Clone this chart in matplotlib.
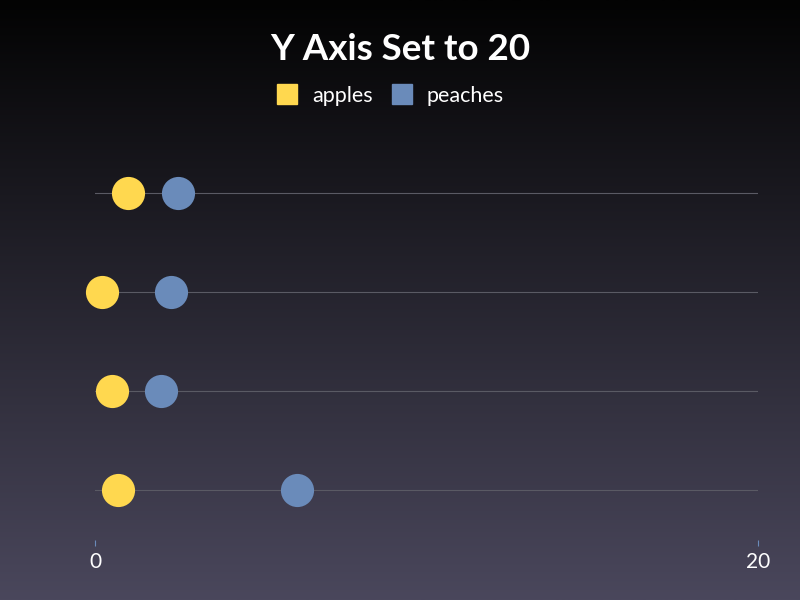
import numpy as np
import matplotlib.pyplot as plt
from matplotlib.lines import Line2D
from matplotlib.colors import LinearSegmentedColormap

plt.rcParams['font.family'] = ['Lato', 'DejaVu Sans']

# data: rows listed from bottom to top
rows = [0, 1, 2, 3]
apples = [0.7, 0.5, 0.2, 1.0]
peaches = [6.1, 2.0, 2.3, 2.5]
series_names = ['apples', 'peaches']
x_ticks = [0, 20]

APPLE_COL = '#ffd84f'
PEACH_COL = '#6a8bba'

fig = plt.figure(figsize=(8, 6), dpi=100)

# background gradient
bg = fig.add_axes([0, 0, 1, 1], zorder=-10)
cmap = LinearSegmentedColormap.from_list('bg', ['#030303', '#4a475c'])
grad = np.linspace(0, 1, 256).reshape(-1, 1)
bg.imshow(grad, aspect='auto', cmap=cmap, extent=[0, 1, 0, 1], origin='upper')
bg.axis('off')

ax = fig.add_axes([95 / 800, 60 / 600, 663 / 800, 397 / 600])
ax.set_facecolor('none')
ax.set_xlim(0, 20)
ax.set_ylim(-0.5, 3.5)

ax.scatter(apples, rows, s=570, color=APPLE_COL, zorder=3, clip_on=False, linewidths=0)
ax.scatter(peaches, rows, s=570, color=PEACH_COL, zorder=3, clip_on=False, linewidths=0)

ax.set_yticks(rows)
ax.yaxis.grid(True, color='#5a5a64', lw=0.8)
ax.tick_params(axis='y', length=0, labelleft=False)
ax.set_xticks(x_ticks)
ax.tick_params(axis='x', colors='#6a8bba', length=4, width=0.8, pad=5,
               labelcolor='white', labelsize=15)
for s in ax.spines.values():
    s.set_visible(False)

fig.text(0.5, 0.918, 'Y Axis Set to 20', ha='center', va='center',
         color='white', fontsize=26.5, fontweight='bold')

handles = [Line2D([], [], marker='s', ls='none', markersize=14.5, color=c)
           for c in [APPLE_COL, PEACH_COL]]
leg = fig.legend(handles, series_names, loc='center', bbox_to_anchor=(0.4875, 0.84),
                 ncol=2, frameon=False, fontsize=15.5, handlelength=1.0,
                 handletextpad=0.65, columnspacing=0.85, labelcolor='white')

fig.savefig('out.png', dpi=100)
